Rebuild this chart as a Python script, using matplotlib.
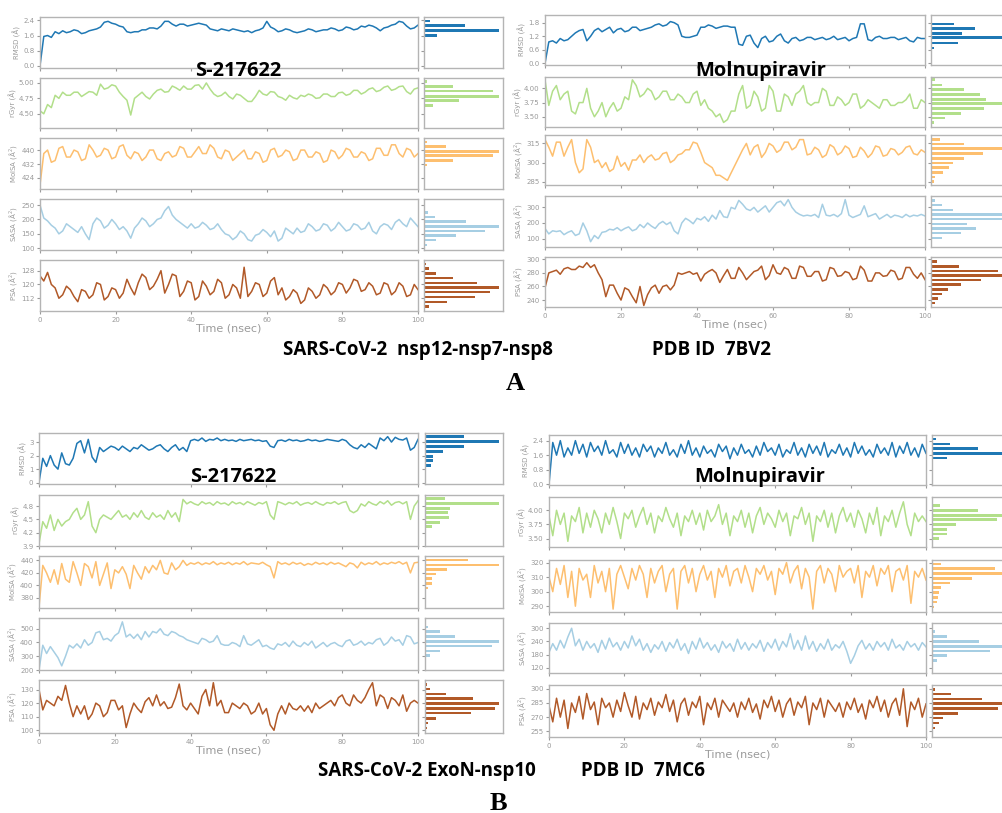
import numpy as np
import matplotlib.pyplot as plt
from matplotlib.ticker import FormatStrFormatter

# ============================================================
# 数据：每条时间序列 0..100 ns，每 1 ns 一个读数（从图上目测）
# a1 = S-217622 / 7BV2, a2 = Molnupiravir / 7BV2
# b1 = S-217622 / 7MC6, b2 = Molnupiravir / 7MC6
# 直方图：*_hy = 柱中心值, *_hn = 柱长度（相对计数）
# ============================================================
a1_rmsd = [0.0, 1.55, 1.6, 1.5, 1.8, 1.7, 1.85, 1.75, 1.8, 1.9,
           1.85, 1.7, 1.75, 1.85, 1.9, 1.95, 2.05, 2.3, 2.35, 2.25,
           2.2, 2.1, 2.05, 1.8, 1.75, 1.8, 1.8, 1.9, 1.9, 2.0,
           2.0, 1.95, 2.1, 2.35, 2.35, 2.2, 2.1, 2.2, 2.2, 2.1,
           2.15, 2.2, 2.25, 2.2, 2.15, 1.95, 1.9, 1.85, 1.95, 1.9,
           1.85, 1.95, 1.9, 1.85, 1.8, 1.85, 1.75, 1.85, 1.9, 2.0,
           2.35, 2.05, 1.95, 1.8, 1.85, 1.95, 1.9, 1.8, 1.75, 1.8,
           1.85, 1.95, 1.9, 1.8, 1.85, 1.9, 1.9, 2.0, 1.95, 1.85,
           1.9, 2.05, 2.0, 1.9, 1.95, 2.1, 2.05, 2.15, 2.1, 2.0,
           1.85, 2.0, 2.05, 2.15, 2.2, 2.35, 2.3, 2.1, 1.95, 2.0,
           2.15]
a1_rgyr = [4.55, 4.5, 4.65, 4.6, 4.8, 4.75, 4.85, 4.8, 4.8, 4.85,
           4.85, 4.78, 4.82, 4.86, 4.85, 4.8, 4.98, 4.9, 4.92, 4.97,
           4.95, 4.85, 4.78, 4.72, 4.48, 4.75, 4.8, 4.85, 4.78, 4.74,
           4.82, 4.88, 4.9, 4.85, 4.86, 4.95, 4.92, 4.88, 4.95, 4.9,
           4.9, 4.96, 4.97, 4.9, 5.0, 4.9, 4.82, 4.78, 4.8, 4.85,
           4.78, 4.74, 4.82, 4.8, 4.75, 4.7, 4.7, 4.78, 4.88, 4.82,
           4.8, 4.86, 4.85, 4.78, 4.76, 4.72, 4.8, 4.76, 4.74, 4.8,
           4.78, 4.82, 4.8, 4.75, 4.76, 4.82, 4.82, 4.78, 4.78, 4.84,
           4.85, 4.8, 4.82, 4.88, 4.88, 4.82, 4.85, 4.9, 4.92, 4.86,
           4.88, 4.93, 4.95, 4.88, 4.9, 4.94, 4.95, 4.86, 4.82, 4.9,
           4.92]
a1_molsa = [420, 438, 440, 433, 434, 441, 442, 436, 436, 440,
            439, 434, 435, 443, 440, 436, 437, 441, 440, 435,
            436, 442, 443, 437, 435, 439, 438, 434, 436, 440,
            440, 435, 434, 438, 439, 436, 437, 442, 441, 436,
            436, 439, 442, 438, 438, 443, 441, 436, 435, 440,
            439, 434, 436, 438, 440, 435, 435, 439, 438, 433,
            434, 440, 441, 436, 437, 440, 439, 434, 435, 440,
            440, 436, 436, 439, 438, 433, 434, 440, 439, 435,
            437, 441, 440, 436, 436, 439, 438, 434, 435, 441,
            441, 437, 437, 443, 443, 438, 436, 441, 440, 436,
            438]
a1_sasa = [250, 205, 195, 180, 170, 150, 160, 185, 175, 165,
           155, 175, 150, 130, 185, 205, 195, 170, 180, 200,
           185, 165, 175, 160, 135, 170, 185, 205, 195, 175,
           185, 200, 205, 230, 245, 215, 200, 190, 180, 170,
           185, 170, 175, 190, 180, 165, 170, 185, 165, 150,
           145, 130, 140, 160, 150, 130, 125, 145, 150, 165,
           155, 140, 160, 125, 135, 170, 160, 150, 170, 155,
           160, 185, 175, 160, 165, 185, 180, 160, 170, 190,
           175, 160, 165, 185, 180, 165, 170, 190, 160, 150,
           175, 185, 180, 165, 190, 200, 185, 175, 205, 190,
           175]
a1_psa = [125, 122, 127, 120, 118, 112, 114, 119, 117, 113,
          110, 117, 116, 112, 114, 121, 120, 111, 113, 118,
          117, 112, 115, 123, 118, 114, 121, 126, 124, 117,
          119, 123, 128, 115, 120, 126, 125, 113, 116, 122,
          121, 111, 113, 122, 119, 114, 116, 123, 121, 112,
          114, 120, 118, 112, 130, 113, 116, 121, 120, 113,
          115, 122, 124, 114, 118, 111, 113, 117, 115, 109,
          111, 118, 116, 112, 114, 120, 118, 114, 116, 121,
          120, 115, 118, 123, 122, 116, 117, 121, 119, 114,
          115, 121, 120, 114, 116, 121, 119, 113, 114, 120,
          117]

a1_rmsd_hy = [2.36, 2.12, 1.87, 1.60]
a1_rmsd_hn = [18, 125, 228, 38]
a1_rgyr_hy = [5.02, 4.94, 4.87, 4.78, 4.71, 4.63, 4.56]
a1_rgyr_hn = [10, 88, 210, 228, 107, 27, 3]
a1_molsa_hy = [444.6, 442.0, 439.2, 436.8, 434.0, 431.4]
a1_molsa_hn = [8, 68, 230, 212, 88, 10]
a1_sasa_hy = [224.6, 208.5, 192, 176, 160, 144, 128, 111.5]
a1_sasa_hn = [12, 33, 128, 230, 185, 98, 38, 8]
a1_psa_hy = [131.7, 129.2, 126.4, 123.7, 121.0, 118.2, 115.5, 112.8, 110.0, 107.3]
a1_psa_hn = [5, 15, 38, 90, 162, 230, 203, 155, 70, 15]

a2_rmsd = [0.0, 0.95, 1.0, 0.9, 1.1, 1.0, 1.05, 1.2, 1.35, 1.45,
           1.5, 1.0, 1.2, 1.45, 1.55, 1.4, 1.5, 1.6, 1.35, 1.5,
           1.55, 1.4, 1.45, 1.6, 1.6, 1.45, 1.5, 1.55, 1.6, 1.7,
           1.75, 1.65, 1.7, 1.85, 1.8, 1.7, 1.2, 1.15, 1.15, 1.2,
           1.25, 1.6, 1.6, 1.7, 1.65, 1.55, 1.6, 1.65, 1.65, 1.6,
           1.6, 0.85, 0.8, 1.2, 1.25, 0.9, 0.7, 1.1, 1.2, 0.95,
           1.0, 1.2, 1.3, 1.0, 0.9, 1.1, 1.15, 1.0, 1.05, 1.15,
           1.15, 1.05, 1.1, 1.15, 1.05, 1.1, 1.2, 1.05, 1.1, 1.15,
           1.0, 1.1, 1.15, 1.75, 1.75, 1.05, 1.0, 1.15, 1.2, 1.1,
           1.1, 1.15, 1.15, 1.05, 1.1, 1.15, 1.0, 0.95, 1.15, 1.1,
           1.1]
a2_rgyr = [4.15, 3.7, 3.95, 4.05, 3.8, 3.9, 3.95, 3.6, 3.55, 3.75,
           3.75, 4.0, 3.65, 3.5, 3.6, 3.75, 3.5, 3.65, 3.75, 3.6,
           3.65, 3.85, 3.8, 4.15, 4.05, 3.85, 3.9, 4.0, 3.95, 3.8,
           3.85, 3.95, 3.95, 3.8, 3.8, 3.9, 3.85, 3.75, 3.75, 3.9,
           3.95, 3.7, 3.8, 3.65, 3.6, 3.5, 3.55, 3.4, 3.45, 3.6,
           3.6, 3.9, 4.05, 3.65, 3.7, 3.95, 3.85, 3.6, 3.65, 4.05,
           3.95, 3.6, 3.6, 3.9, 3.85, 3.7, 3.9, 3.95, 4.05, 3.75,
           3.7, 3.75, 3.75, 4.0, 3.95, 3.7, 3.7, 3.85, 3.8, 3.7,
           3.75, 3.9, 3.9, 3.65, 3.7, 3.8, 3.75, 3.7, 3.65, 3.8,
           3.8, 3.7, 3.7, 3.75, 3.75, 3.8, 3.9, 3.65, 3.65, 3.8,
           3.75]
a2_molsa = [318, 312, 305, 316, 316, 305, 312, 318, 300, 292,
            295, 318, 312, 300, 302, 296, 300, 293, 295, 305,
            297, 300, 294, 302, 302, 306, 300, 304, 306, 302,
            303, 307, 308, 300, 302, 306, 307, 310, 310, 316,
            315, 308, 300, 298, 296, 290, 290, 288, 286, 292,
            298, 304, 310, 315, 306, 312, 314, 304, 308, 315,
            313, 308, 310, 316, 316, 310, 312, 318, 318, 306,
            307, 312, 310, 304, 306, 314, 312, 306, 308, 313,
            311, 304, 305, 312, 309, 304, 307, 313, 312, 305,
            306, 311, 310, 306, 308, 312, 313, 307, 306, 310,
            308]
a2_sasa = [165, 130, 150, 145, 150, 125, 140, 150, 120, 130,
           200, 150, 80, 120, 100, 140, 145, 160, 155, 170,
           150, 165, 175, 150, 160, 190, 170, 200, 180, 165,
           195, 210, 190, 205, 150, 130, 200, 230, 215, 195,
           230, 220, 240, 210, 250, 225, 280, 240, 235, 300,
           290, 345, 320, 290, 280, 300, 270, 290, 310, 270,
           300, 330, 340, 310, 350, 300, 270, 255, 245, 250,
           245, 255, 235, 320, 250, 245, 255, 240, 260, 350,
           250, 235, 245, 255, 310, 240, 250, 260, 225, 240,
           255, 235, 250, 245, 235, 255, 240, 250, 245, 255,
           245]
a2_psa = [258, 280, 282, 284, 278, 286, 288, 285, 285, 290,
          288, 295, 288, 292, 280, 270, 245, 262, 262, 250,
          240, 258, 255, 245, 236, 260, 232, 248, 258, 262,
          250, 260, 262, 255, 262, 280, 278, 280, 282, 278,
          280, 268, 278, 282, 285, 280, 266, 276, 285, 272,
          272, 288, 280, 270, 276, 282, 284, 290, 270, 276,
          292, 280, 278, 288, 285, 272, 272, 290, 288, 275,
          275, 282, 282, 268, 270, 288, 286, 275, 276, 282,
          280, 270, 272, 290, 284, 268, 268, 280, 280, 275,
          276, 284, 282, 270, 272, 288, 288, 278, 272, 280,
          270]

a2_rmsd_hy = [1.74, 1.55, 1.33, 1.14, 0.91, 0.69]
a2_rmsd_hn = [68, 130, 92, 230, 80, 8]
a2_rgyr_hy = [4.15, 4.06, 3.98, 3.89, 3.81, 3.73, 3.65, 3.56, 3.48, 3.40]
a2_rgyr_hn = [12, 32, 98, 145, 165, 230, 158, 88, 42, 10]
a2_molsa_hy = [318.2, 314.5, 310.8, 307.1, 303.4, 299.7, 296.0, 292.4, 288.7, 285.0]
a2_molsa_hn = [28, 98, 230, 155, 98, 65, 55, 35, 12, 8]
a2_sasa_hy = [343, 315, 285, 255, 225, 195, 165, 135, 104]
a2_sasa_hn = [12, 32, 65, 230, 225, 108, 135, 90, 32]
a2_psa_hy = [296.6, 289.8, 283.0, 276.2, 269.4, 262.6, 255.8, 249.0, 242.2, 235.4]
a2_psa_hn = [18, 82, 200, 230, 148, 88, 50, 32, 20, 12]

b1_rmsd = [0.0, 1.8, 1.2, 2.0, 1.3, 1.0, 2.2, 1.4, 1.3, 1.8,
           2.9, 3.1, 2.2, 3.2, 1.9, 1.5, 2.6, 2.3, 2.5, 2.7,
           2.6, 2.4, 2.7, 2.5, 2.3, 2.6, 2.5, 2.8, 2.6, 2.4,
           2.5, 2.7, 2.8, 2.5, 2.3, 2.6, 2.8, 2.4, 2.6, 2.3,
           3.1, 3.2, 3.1, 3.3, 3.05, 3.2, 3.15, 3.3, 3.1, 3.2,
           3.1, 3.15, 3.05, 3.2, 3.1, 3.15, 3.2, 3.1, 3.15, 3.05,
           3.1, 2.7, 2.6, 3.1, 3.15, 3.05, 3.2, 3.1, 3.15, 3.05,
           3.1, 3.2, 3.1, 3.15, 3.05, 3.1, 3.2, 3.15, 3.1, 3.05,
           3.2, 3.1, 2.8, 2.6, 2.5, 2.8, 2.6, 2.9, 2.7, 2.5,
           3.3, 3.1, 3.4, 3.0, 3.35, 3.2, 3.15, 3.3, 2.4, 2.6,
           3.2]
b1_rgyr = [3.95, 4.45, 4.3, 4.6, 4.25, 4.5, 4.35, 4.45, 4.5, 4.65,
           4.75, 4.5, 4.6, 4.9, 4.35, 4.2, 4.5, 4.6, 4.55, 4.5,
           4.6, 4.7, 4.55, 4.6, 4.5, 4.65, 4.55, 4.7, 4.55, 4.5,
           4.65, 4.55, 4.6, 4.5, 4.7, 4.55, 4.65, 4.45, 4.95, 4.85,
           4.9, 4.85, 4.82, 4.9, 4.85, 4.88, 4.82, 4.9, 4.85, 4.87,
           4.82, 4.9, 4.85, 4.88, 4.83, 4.9, 4.86, 4.82, 4.88, 4.85,
           4.9, 4.6, 4.5, 4.9, 4.87, 4.83, 4.88, 4.85, 4.9, 4.82,
           4.86, 4.88, 4.84, 4.9, 4.85, 4.82, 4.88, 4.86, 4.9, 4.84,
           4.88, 4.9, 4.7, 4.65, 4.7, 4.85, 4.8, 4.9, 4.85, 4.82,
           4.9, 4.85, 4.92, 4.82, 4.88, 4.9, 4.85, 4.9, 4.5, 4.8,
           4.92]
b1_molsa = [365, 432, 420, 405, 425, 402, 435, 410, 405, 438,
            420, 400, 435, 430, 412, 438, 400, 418, 436, 395,
            425, 420, 430, 418, 395, 432, 420, 410, 430, 420,
            432, 425, 440, 420, 418, 436, 425, 430, 440, 432,
            436, 434, 437, 433, 436, 434, 438, 433, 436, 434,
            437, 433, 436, 434, 438, 433, 436, 435, 434, 437,
            433, 430, 412, 438, 434, 436, 433, 437, 434, 436,
            432, 435, 433, 437, 434, 436, 433, 437, 434, 436,
            433, 430, 436, 434, 428, 437, 433, 436, 434, 438,
            433, 436, 434, 437, 435, 438, 434, 437, 420, 436,
            437]
b1_sasa = [200, 380, 320, 370, 330, 290, 230, 300, 380, 360,
           390, 360, 420, 380, 400, 470, 480, 420, 430, 410,
           450, 470, 550, 440, 460, 430, 460, 420, 480, 440,
           480, 470, 500, 460, 450, 480, 470, 450, 440, 420,
           410, 400, 390, 430, 420, 400, 410, 450, 390, 380,
           380, 400, 390, 370, 450, 390, 380, 400, 420, 370,
           380, 360, 350, 390, 380, 400, 370, 410, 380, 370,
           400, 380, 410, 360, 380, 400, 370, 390, 400, 380,
           370, 410, 420, 380, 390, 410, 380, 400, 390, 420,
           430, 380, 400, 440, 410, 420, 380, 450, 440, 390,
           400]
b1_psa = [130, 115, 122, 120, 118, 125, 122, 133, 120, 110,
          118, 112, 118, 108, 112, 120, 118, 110, 113, 122,
          122, 115, 118, 102, 112, 120, 116, 113, 121, 124,
          118, 126, 118, 121, 116, 117, 124, 134, 118, 115,
          120, 116, 112, 125, 130, 118, 135, 118, 122, 113,
          113, 120, 118, 116, 120, 118, 112, 114, 120, 112,
          116, 104, 100, 112, 118, 112, 120, 116, 115, 118,
          114, 118, 113, 120, 116, 118, 120, 122, 118, 124,
          126, 120, 118, 126, 122, 120, 124, 130, 135, 118,
          126, 124, 116, 124, 122, 118, 126, 114, 120, 122,
          120]

b1_rmsd_hy = [3.40, 3.02, 2.68, 2.31, 1.96, 1.61, 1.26]
b1_rmsd_hn = [120, 228, 120, 55, 25, 25, 18]
b1_rgyr_hy = [4.98, 4.86, 4.75, 4.65, 4.54, 4.44, 4.33, 4.23]
b1_rgyr_hn = [60, 228, 78, 70, 75, 45, 22, 3]
b1_molsa_hy = [440.5, 432.7, 425.5, 418.2, 410.9, 403.6, 395.8]
b1_molsa_hn = [132, 228, 68, 35, 22, 22, 8]
b1_sasa_hy = [512, 478, 444, 407, 373, 339, 305]
b1_sasa_hn = [8, 45, 92, 228, 205, 45, 15]
b1_psa_hy = [133.8, 130.3, 126.7, 123.2, 119.6, 116.1, 112.6, 108.8, 105.3, 101.8]
b1_psa_hn = [5, 15, 65, 148, 228, 215, 142, 35, 8, 5]

b2_rmsd = [0.0, 2.3, 1.6, 2.4, 1.5, 2.0, 1.6, 2.4, 1.7, 2.2,
           1.5, 2.3, 1.8, 2.1, 1.6, 2.4, 1.7, 1.9, 1.5, 2.3,
           1.7, 2.2, 1.6, 2.0, 1.5, 2.2, 1.8, 2.1, 1.5, 2.0,
           1.7, 2.3, 1.6, 1.9, 1.5, 2.2, 1.7, 2.4, 1.6, 2.0,
           1.5, 2.1, 1.7, 1.9, 1.5, 2.2, 1.8, 2.1, 1.4, 2.0,
           1.6, 2.2, 1.7, 1.9, 1.5, 2.1, 1.6, 2.3, 1.8, 2.0,
           1.6, 2.2, 1.5, 1.9, 1.7, 2.3, 1.6, 2.0, 1.5, 2.2,
           1.7, 2.1, 1.6, 2.3, 1.5, 1.9, 1.7, 2.2, 1.6, 2.0,
           1.5, 2.3, 1.7, 2.1, 1.6, 1.9, 1.5, 2.2, 1.7, 2.0,
           1.6, 2.3, 1.5, 2.1, 1.7, 2.3, 1.6, 2.0, 1.5, 2.2,
           1.7]
b2_rgyr = [3.9, 3.55, 4.0, 3.75, 3.95, 3.45, 3.9, 3.8, 4.05, 3.6,
           3.95, 3.7, 4.0, 3.85, 3.6, 3.95, 3.75, 4.05, 3.8, 3.5,
           3.95, 3.85, 4.0, 3.7, 3.9, 4.05, 3.75, 3.95, 3.6, 3.9,
           3.8, 4.05, 3.85, 3.7, 3.95, 3.55, 3.9, 3.8, 4.0, 3.75,
           3.95, 3.65, 4.0, 3.8, 3.9, 4.1, 3.75, 3.95, 3.55, 3.9,
           3.8, 4.0, 3.7, 3.95, 3.6, 3.9, 4.05, 3.75, 3.95, 3.85,
           3.7, 4.0, 3.8, 3.95, 3.55, 3.9, 3.85, 4.05, 3.75, 3.95,
           3.45, 3.9, 3.8, 4.0, 3.7, 3.95, 3.6, 3.9, 4.05, 3.8,
           3.95, 3.7, 4.0, 3.85, 3.6, 3.95, 3.75, 4.05, 3.55, 3.9,
           3.8, 4.0, 3.7, 3.95, 4.15, 3.75, 3.55, 3.95, 3.8, 3.9,
           3.8]
b2_molsa = [310, 300, 316, 305, 318, 296, 314, 290, 316, 308,
            312, 296, 318, 306, 314, 300, 316, 288, 312, 318,
            310, 302, 316, 308, 318, 312, 296, 316, 306, 314,
            318, 300, 312, 316, 288, 314, 318, 306, 316, 300,
            312, 318, 308, 314, 296, 316, 310, 318, 304, 314,
            316, 306, 318, 310, 300, 316, 312, 318, 308, 314,
            298, 316, 312, 320, 306, 314, 318, 302, 316, 310,
            288, 314, 318, 306, 316, 312, 300, 318, 310, 314,
            316, 306, 318, 296, 314, 310, 318, 304, 316, 312,
            318, 300, 314, 316, 308, 318, 292, 314, 310, 316,
            308]
b2_sasa = [190, 230, 200, 245, 210, 260, 300, 220, 250, 200,
           240, 210, 230, 190, 245, 205, 255, 215, 235, 200,
           240, 210, 265, 220, 250, 200, 230, 190, 225, 205,
           240, 195, 235, 210, 250, 200, 230, 185, 240, 205,
           255, 210, 235, 200, 225, 190, 240, 210, 230, 195,
           250, 205, 235, 200, 230, 210, 245, 195, 235, 210,
           250, 200, 240, 215, 275, 205, 245, 200, 265, 205,
           240, 195, 230, 205, 250, 200, 225, 210, 240, 195,
           140, 175, 220, 245, 205, 230, 200, 240, 215, 235,
           200, 250, 210, 225, 200, 240, 215, 230, 200, 235,
           215]
b2_psa = [282, 265, 290, 270, 288, 258, 285, 275, 292, 268,
          295, 278, 286, 262, 290, 280, 285, 270, 288, 276,
          296, 282, 270, 292, 268, 285, 278, 290, 272, 286,
          280, 294, 276, 288, 265, 284, 290, 272, 286, 280,
          292, 262, 285, 278, 290, 270, 288, 282, 276, 285,
          270, 286, 278, 290, 275, 284, 268, 288, 280, 292,
          276, 288, 270, 284, 290, 272, 286, 280, 292, 262,
          285, 278, 290, 270, 288, 282, 276, 285, 270, 286,
          278, 290, 275, 284, 268, 288, 280, 292, 276, 288,
          270, 284, 290, 272, 300, 260, 286, 278, 290, 270,
          284]

b2_rmsd_hy = [2.49, 2.22, 1.96, 1.70, 1.45]
b2_rmsd_hn = [12, 55, 138, 230, 45]
b2_rgyr_hy = [4.08, 3.99, 3.91, 3.83, 3.75, 3.66, 3.58, 3.50]
b2_rgyr_hn = [25, 138, 230, 195, 72, 45, 45, 22]
b2_molsa_hy = [319.1, 315.8, 312.6, 309.2, 306.0, 302.7, 299.5, 296.2, 293.0, 289.5]
b2_molsa_hn = [28, 190, 230, 120, 55, 28, 22, 18, 15, 5]
b2_sasa_hy = [286, 263.4, 240.5, 217.6, 196, 175, 152]
b2_sasa_hn = [8, 45, 142, 230, 175, 45, 15]
b2_psa_hy = [299.3, 294.3, 289.3, 284.3, 279.0, 274.0, 269.0, 264.0, 258.6, 253.6]
b2_psa_hn = [8, 58, 150, 230, 200, 78, 32, 22, 8, 3]

ROW_LABELS = ["RMSD (Å)", "rGyr (Å)", "MolSA (Å$^2$)", "SASA (Å$^2$)", "PSA (Å$^2$)"]
COLORS = ["#1f78b4", "#b2df8a", "#fdbf6f", "#a6cee3", "#b15928"]
GRAY = "#9a9a9a"
SPINE = "#b4b4b4"

# ============================================================
# 版面（像素坐标，原图 1002x813）
# ============================================================
W, H = 1002, 813
fig = plt.figure(figsize=(W / 100, H / 100), dpi=100)


def box(x0, y0, x1, y1):
    return [x0 / W, 1 - y1 / H, (x1 - x0) / W, (y1 - y0) / H]


panels = [
    dict(
        series=[a1_rmsd, a1_rgyr, a1_molsa, a1_sasa, a1_psa],
        hist=[(a1_rmsd_hy, a1_rmsd_hn), (a1_rgyr_hy, a1_rgyr_hn),
              (a1_molsa_hy, a1_molsa_hn), (a1_sasa_hy, a1_sasa_hn),
              (a1_psa_hy, a1_psa_hn)],
        ylims=[(-0.12, 2.58), (4.27, 5.08), (417.7, 446.9), (94, 271), (104.6, 134.2)],
        yticks=[[0, 0.8, 1.6, 2.4], [4.5, 4.75, 5.0], [424, 432, 440],
                [100, 150, 200, 250], [112, 120, 128]],
        fmts=["%.1f", "%.2f", "%d", "%d", "%d"],
        tx=(40, 418), hx=(424, 503),
        rows=[(17, 68), (78, 128), (138, 189), (199, 250), (260, 311)],
    ),
    dict(
        series=[a2_rmsd, a2_rgyr, a2_molsa, a2_sasa, a2_psa],
        hist=[(a2_rmsd_hy, a2_rmsd_hn), (a2_rgyr_hy, a2_rgyr_hn),
              (a2_molsa_hy, a2_molsa_hn), (a2_sasa_hy, a2_sasa_hn),
              (a2_psa_hy, a2_psa_hn)],
        ylims=[(-0.07, 2.14), (3.32, 4.2), (282.4, 321.6), (46, 373), (229.8, 303.4)],
        yticks=[[0, 0.6, 1.2, 1.8], [3.5, 3.75, 4.0], [285, 300, 315],
                [100, 200, 300], [240, 260, 280, 300]],
        fmts=["%.1f", "%.2f", "%d", "%d", "%d"],
        tx=(545, 925), hx=(931, 1012),
        rows=[(15, 65), (77, 127), (135, 185), (196, 247), (257, 307)],
    ),
    dict(
        series=[b1_rmsd, b1_rgyr, b1_molsa, b1_sasa, b1_psa],
        hist=[(b1_rmsd_hy, b1_rmsd_hn), (b1_rgyr_hy, b1_rgyr_hn),
              (b1_molsa_hy, b1_molsa_hn), (b1_sasa_hy, b1_sasa_hn),
              (b1_psa_hy, b1_psa_hn)],
        ylims=[(-0.1, 3.67), (3.9, 5.05), (364, 447), (200, 578), (98, 137)],
        yticks=[[0, 1, 2, 3], [3.9, 4.2, 4.5, 4.8], [380, 400, 420, 440],
                [200, 300, 400, 500], [100, 110, 120, 130]],
        fmts=["%d", "%.1f", "%d", "%d", "%d"],
        tx=(39, 418), hx=(425, 503),
        rows=[(433, 484), (495, 546), (556, 608), (618, 670), (680, 733)],
    ),
    dict(
        series=[b2_rmsd, b2_rgyr, b2_molsa, b2_sasa, b2_psa],
        hist=[(b2_rmsd_hy, b2_rmsd_hn), (b2_rgyr_hy, b2_rgyr_hn),
              (b2_molsa_hy, b2_molsa_hn), (b2_sasa_hy, b2_sasa_hn),
              (b2_psa_hy, b2_psa_hn)],
        ylims=[(-0.04, 2.71), (3.35, 4.235), (286, 321.8), (96, 324), (249, 304)],
        yticks=[[0, 0.8, 1.6, 2.4], [3.5, 3.75, 4.0], [290, 300, 310, 320],
                [120, 180, 240, 300], [255, 270, 285, 300]],
        fmts=["%.1f", "%.2f", "%d", "%d", "%d"],
        tx=(549, 926), hx=(932, 1012),
        rows=[(435, 485), (497, 547), (560, 612), (623, 673), (685, 737)],
    ),
]


def style(ax):
    for s in ax.spines.values():
        s.set_color(SPINE)
        s.set_linewidth(1.0)
    ax.tick_params(colors=GRAY, labelcolor=GRAY, labelsize=5, length=2.5,
                   width=0.8, pad=1.5)


def draw_panel(p):
    last = len(p["rows"]) - 1
    for i, (y0, y1) in enumerate(p["rows"]):
        ax = fig.add_axes(box(p["tx"][0], y0, p["tx"][1], y1))
        vals = p["series"][i]
        t = np.linspace(0, 100, len(vals))
        ax.plot(t, vals, color=COLORS[i], lw=1.1)
        ax.set_xlim(0, 100)
        ax.set_ylim(*p["ylims"][i])
        ax.set_yticks(p["yticks"][i])
        ax.yaxis.set_major_formatter(FormatStrFormatter(p["fmts"][i]))
        ax.set_xticks(range(0, 101, 20))
        style(ax)
        ax.set_ylabel(ROW_LABELS[i], fontsize=5, color=GRAY, labelpad=1.5)
        if i == last:
            ax.set_xlabel("Time (nsec)", fontsize=8, color=GRAY, labelpad=1)
        else:
            ax.tick_params(labelbottom=False)

        hy, hn = p["hist"][i]
        hax = fig.add_axes(box(p["hx"][0], y0, p["hx"][1], y1))
        hax.barh(hy, hn, height=abs(hy[0] - hy[1]) * 0.55, color=COLORS[i])
        hax.set_ylim(*p["ylims"][i])
        hax.set_yticks(p["yticks"][i])
        hax.set_xlim(0, max(hn) * 1.05)
        hax.set_xticks([])
        style(hax)
        hax.tick_params(labelleft=False)


for p in panels:
    draw_panel(p)

BOLD = dict(family=["Open Sans", "DejaVu Sans"], weight="bold", color="black",
            ha="center", va="center")


def label(x, y, s, size):
    fig.text(x / W, 1 - y / H, s, fontsize=size, **BOLD)


label(238, 71, "S-217622", 14.5)
label(761, 71, "Molnupiravir", 14.5)
label(233, 477, "S-217622", 14.5)
label(760, 477, "Molnupiravir", 14.5)
label(418, 350, "SARS-CoV-2  nsp12-nsp7-nsp8", 13.5)
label(712, 350, "PDB ID  7BV2", 13.5)
label(427, 771, "SARS-CoV-2 ExoN-nsp10", 13.5)
label(643, 771, "PDB ID  7MC6", 13.5)

SERIF = dict(family=["Liberation Serif", "DejaVu Serif"], weight="bold",
             ha="center", va="center")
fig.text(515 / W, 1 - 383 / H, "A", fontsize=19, **SERIF)
fig.text(498 / W, 1 - 803 / H, "B", fontsize=19, **SERIF)

fig.savefig("out.png", dpi=100)
